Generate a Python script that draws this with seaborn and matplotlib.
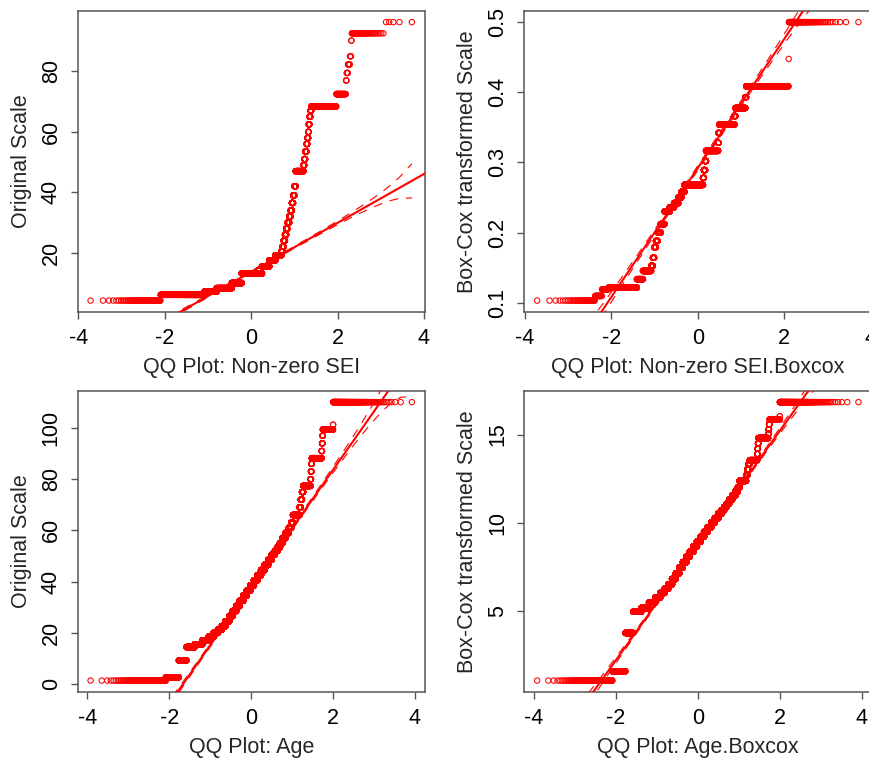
import numpy as np
import pandas as pd
import matplotlib
matplotlib.use("Agg")
import matplotlib.pyplot as plt
import seaborn as sns
from statistics import NormalDist

# ---------------------------------------------------------------
# Frequency tables: each distinct observed value and its count
# ---------------------------------------------------------------
# Non-zero socio-economic index, original scale
sei_values = [4.2, 6.1, 7.2, 8.3, 10.0, 13.2, 15.5, 17.5, 19.2, 20.5,
              22, 24, 26, 28, 30, 32, 34, 36.5, 39, 42,
              47, 49, 51, 53.5, 56, 58, 60, 62.5, 65, 67,
              68.4, 72.5, 77, 79.5, 82.3, 85, 90.2, 92.6, 96.3]
sei_counts = [89, 611, 359, 573, 433, 929, 320, 247, 229, 31,
              46, 45, 43, 43, 55, 40, 39, 38, 37, 35,
              192, 19, 19, 27, 17, 17, 8, 16, 16, 16,
              289, 51, 3, 5, 7, 4, 2, 45, 5]

# Non-zero socio-economic index, Box-Cox scale
sei_bc_values = [0.103, 0.1096, 0.119, 0.1215, 0.1335, 0.1453, 0.1525, 0.164,
                 0.179, 0.188, 0.200, 0.212, 0.230, 0.236, 0.242, 0.250,
                 0.258, 0.268, 0.278, 0.289, 0.302, 0.3165, 0.328, 0.342,
                 0.354, 0.366, 0.3775, 0.393, 0.4085, 0.4476, 0.5]
sei_bc_counts = [43, 23, 30, 300, 114, 190, 46, 35,
                 49, 51, 93, 129, 186, 167, 176, 128,
                 131, 848, 39, 59, 40, 527, 18, 35,
                 555, 27, 283, 21, 568, 1, 88]

# Age, original and Box-Cox scale (same respondents, same counts)
age_values = [1.33, 2.6, 9.2, 14.4, 15.5, 17, 18.5, 20, 21.3, 22.6,
              24.5, 26.5, 28.5, 30.5, 32.5, 34.5, 36.5, 38.5, 40.5, 42.5,
              44.5, 46.5, 48.5, 50.5, 52, 53.4, 55, 57, 59, 61,
              63, 66, 69, 72, 75, 77.4, 80, 83, 86, 88.2,
              91, 94, 97, 99.4, 101.3, 110.1]
age_bc_values = [1.06, 1.59, 3.76, 4.96, 5.18, 5.48, 5.76, 6.03, 6.27, 6.52,
                 6.82, 7.14, 7.46, 7.77, 8.08, 8.37, 8.66, 8.94, 9.21, 9.49,
                 9.75, 10.01, 10.27, 10.52, 10.71, 10.9, 11.08, 11.31, 11.55, 11.78,
                 12.01, 12.38, 12.7, 13.02, 13.34, 13.55, 13.9, 14.2, 14.5, 14.8,
                 15.05, 15.3, 15.58, 15.85, 16.04, 16.84]
age_counts = [211, 230, 215, 308, 375, 374, 349, 338, 311, 333,
              352, 349, 363, 374, 384, 394, 394, 399, 396, 392,
              383, 377, 359, 305, 244, 216, 220, 250, 249, 167,
              120, 401, 67, 65, 63, 327, 16, 16, 15, 308,
              10, 10, 10, 199, 2, 260]

# Axis text
x_ticks = [-4, -2, 0, 2, 4]
x_tick_labels = ["-4", "-2", "0", "2", "4"]
sei_yticks = [20, 40, 60, 80]
sei_ytick_labels = ["20", "40", "60", "80"]
sei_bc_yticks = [0.1, 0.2, 0.3, 0.4, 0.5]
sei_bc_ytick_labels = ["0.1", "0.2", "0.3", "0.4", "0.5"]
age_yticks = [0, 20, 40, 60, 80, 100]
age_ytick_labels = ["0", "20", "40", "60", "80", "100"]
age_bc_yticks = [5, 10, 15]
age_bc_ytick_labels = ["5", "10", "15"]

# ---------------------------------------------------------------
sns.set_style("ticks")
plt.rcParams["font.family"] = ["Liberation Sans", "DejaVu Sans"]

RED = "#ff0000"
AXIS_GREY = "#555555"
FS = 15.5
normal = NormalDist()


def qq_frame(values, counts):
    """Sorted sample against normal quantiles at ppoints (i - 0.5) / n."""
    sample = np.sort(np.repeat(np.asarray(values, dtype=float), counts))
    n = sample.size
    p = (np.arange(1, n + 1) - 0.5) / n
    z = np.array([normal.inv_cdf(v) for v in p])
    return pd.DataFrame({"z": z, "value": sample, "p": p})


def padded(lo, hi, frac=0.04):
    span = hi - lo
    return lo - frac * span, hi + frac * span


def draw_qq(ax, df, xlabel, ylabel, yticks, yticklabels):
    n = len(df)
    # reference line through the quartiles
    q1, q3 = np.quantile(df["value"], [0.25, 0.75])
    z1, z3 = normal.inv_cdf(0.25), normal.inv_cdf(0.75)
    slope = (q3 - q1) / (z3 - z1)
    intercept = q1 - slope * z1
    # pointwise 95% envelope
    dens = np.exp(-df["z"] ** 2 / 2) / np.sqrt(2 * np.pi)
    se = slope / dens * np.sqrt(df["p"] * (1 - df["p"]) / n)
    fit = intercept + slope * df["z"]
    crit = normal.inv_cdf(0.975)
    env = pd.DataFrame({"z": df["z"], "upper": fit + crit * se,
                        "lower": fit - crit * se})

    xlim = padded(df["z"].min(), df["z"].max())
    ylim = padded(df["value"].min(), df["value"].max())

    sns.scatterplot(data=df, x="z", y="value", ax=ax, marker="o", s=15,
                    facecolor="none", edgecolor=RED, linewidth=0.75,
                    legend=False, zorder=2)
    line_x = np.array(xlim)
    sns.lineplot(x=line_x, y=intercept + slope * line_x, ax=ax, color=RED,
                 linewidth=1.5, estimator=None, zorder=3)
    for col in ("upper", "lower"):
        sns.lineplot(data=env, x="z", y=col, ax=ax, color=RED, linewidth=0.8,
                     linestyle=(0, (8, 7)), estimator=None, sort=False,
                     zorder=3)

    ax.set_xlim(xlim)
    ax.set_ylim(ylim)
    ax.set_xticks(x_ticks, x_tick_labels, fontsize=FS)
    ax.set_yticks(yticks, yticklabels, fontsize=FS, rotation=90, va="center")
    ax.tick_params(direction="out", length=5, width=1.0, color=AXIS_GREY,
                   labelcolor="black", pad=6.5)
    for sp in ax.spines.values():
        sp.set_color(AXIS_GREY)
        sp.set_linewidth(1.1)

    ax.set_xlabel(xlabel, fontsize=FS, va="center")
    ax.set_ylabel(ylabel, fontsize=FS, va="center")
    ax.xaxis.set_label_coords(0.5, -55.8 / 300.7)
    ax.yaxis.set_label_coords(-56.5 / 347.0, 0.5)


W, H = 870, 761
fig = plt.figure(figsize=(W / 100, H / 100), dpi=100)
fig.patch.set_facecolor("white")


def box(left, top, right, bottom):
    return [left / W, 1 - bottom / H, (right - left) / W, (bottom - top) / H]


ax_sei = fig.add_axes(box(77.7, 11, 424.7, 311.7))
ax_sei_bc = fig.add_axes(box(524.3, 11, 871.3, 311.7))
ax_age = fig.add_axes(box(77.7, 391, 424.7, 691.7))
ax_age_bc = fig.add_axes(box(524.3, 391, 871.3, 691.7))

draw_qq(ax_sei, qq_frame(sei_values, sei_counts),
        "QQ Plot: Non-zero SEI", "Original Scale",
        sei_yticks, sei_ytick_labels)
draw_qq(ax_sei_bc, qq_frame(sei_bc_values, sei_bc_counts),
        "QQ Plot: Non-zero SEI.Boxcox", "Box-Cox transformed Scale",
        sei_bc_yticks, sei_bc_ytick_labels)
draw_qq(ax_age, qq_frame(age_values, age_counts),
        "QQ Plot: Age", "Original Scale",
        age_yticks, age_ytick_labels)
draw_qq(ax_age_bc, qq_frame(age_bc_values, age_counts),
        "QQ Plot: Age.Boxcox", "Box-Cox transformed Scale",
        age_bc_yticks, age_bc_ytick_labels)

fig.savefig("out.png", dpi=100, facecolor="white")
